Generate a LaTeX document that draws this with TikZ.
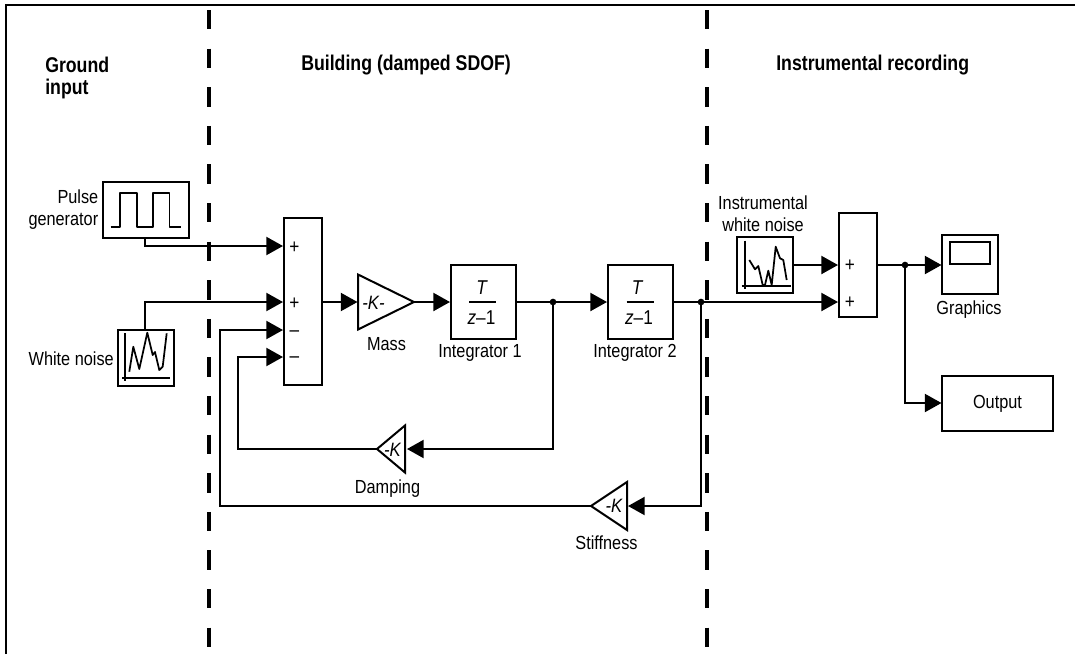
\documentclass[tikz,border=0pt]{standalone}
\usepackage{fontspec}
\setmainfont[FakeStretch=0.86]{Liberation Sans}
\newfontfamily\headfont[FakeStretch=0.83]{Liberation Sans}
\usetikzlibrary{arrows.meta,shapes.geometric}
\tikzset{
  x=0.75pt,y=-0.75pt,
  wire/.style={line width=1.6pt,-{Triangle[length=12.5pt,width=13.5pt]}},
  plainwire/.style={line width=1.6pt},
  block/.style={draw,line width=1.5pt,inner sep=0pt,outer sep=0pt,anchor=north west},
  gain/.style={draw,line width=1.5pt,isosceles triangle,isosceles triangle stretches,inner sep=0pt,outer sep=0pt,anchor=apex},
  lab/.style={font=\fontsize{14.2pt}{16.5pt}\selectfont,inner sep=0pt,align=center},
  head/.style={font=\fontsize{16pt}{17pt}\headfont\bfseries,inner sep=0pt,align=left,anchor=west},
  sign/.style={font=\fontsize{15pt}{15pt}\selectfont,inner sep=0pt},
  dot/.style={fill,circle,inner sep=0pt,minimum size=5pt},
  divider/.style={line width=3pt,dash pattern=on 14.5pt off 14.45pt},
  icon/.style={line width=1.3pt,line join=round},
  frac/.style={font=\fontsize{15pt}{17pt}\selectfont,inner sep=0pt}
}
\begin{document}
\begin{tikzpicture}
\useasboundingbox (0,0) rectangle (1075,654);
\fill[white] (0,0) rectangle (1075,654);
% frame
\coordinate (frameBL) at (5.5,654);
\coordinate (frameTL) at (5.5,4.5);
\coordinate (frameTR) at (1075,4.5);
\draw[line width=1.5pt] (frameBL) -- (frameTL) -- (frameTR);
% dividers
\coordinate (d1t) at (209,10); \coordinate (d1b) at (209,654);
\coordinate (d2t) at (707,10); \coordinate (d2b) at (707,654);
\draw[divider] (d1t) -- (d1b);
\draw[divider] (d2t) -- (d2b);
% headings
\node[head] (hground) at (45,77.5) {Ground\\[-0.5pt]input};
\node[head] (hbuilding) at (301,65.5) {Building (damped SDOF)};
\node[head] (hinstr) at (776,65.5) {Instrumental recording};
% blocks
\node[block,minimum width=86.5*0.75pt,minimum height=55.5*0.75pt] (pulse) at (102.5,182) {};
\node[block,minimum width=56*0.75pt,minimum height=56.5*0.75pt] (wn) at (118,329.5) {};
\node[block,minimum width=38*0.75pt,minimum height=167*0.75pt] (sum1) at (284,218) {};
\node[block,minimum width=65*0.75pt,minimum height=74.5*0.75pt] (int1) at (450.5,264.5) {};
\node[block,minimum width=65.5*0.75pt,minimum height=74.5*0.75pt] (int2) at (607.5,264.5) {};
\node[block,minimum width=56*0.75pt,minimum height=56*0.75pt] (iwn) at (737,237) {};
\node[block,minimum width=38*0.75pt,minimum height=104*0.75pt] (sum2) at (839,213) {};
\node[block,minimum width=56*0.75pt,minimum height=59*0.75pt] (scope) at (942,235) {};
\node[block,minimum width=40*0.75pt,minimum height=22*0.75pt] (screen) at (949.5,242) {};
\node[block,minimum width=111*0.75pt,minimum height=55*0.75pt,font=\fontsize{14.2pt}{16pt}\selectfont] (output) at (942,376) {Output};
% gains
\node[gain,shape border rotate=0,minimum height=56*0.75pt,minimum width=55*0.75pt] (mass) at (414,302) {};
\node[gain,shape border rotate=180,minimum height=28*0.75pt,minimum width=47*0.75pt] (damp) at (377,449) {};
\node[gain,shape border rotate=180,minimum height=36*0.75pt,minimum width=48*0.75pt] (stiff) at (591,506) {};
% gain texts
\node[lab,font=\fontsize{14.5pt}{15pt}\selectfont\itshape] (masstxt) at (373.5,303) {-K-};
\node[lab,font=\fontsize{14.5pt}{15pt}\selectfont\itshape] (damptxt) at (392.5,450) {-K};
\node[lab,font=\fontsize{14.5pt}{15pt}\selectfont\itshape] (stifftxt) at (614,506) {-K};
% integrator fractions
\foreach \n/\cx/\tx/\zx in {a/482.5/481.5/481.5,b/640/637/639}{
  \node[frac,font=\fontsize{15pt}{17pt}\selectfont\itshape] (t\n) at (\tx,288) {T};
  \node[frac] (z\n) at (\zx,318) {\textit{z}–1};
  \draw[line width=1.4pt] (\cx-13.5,302) -- (\cx+13.5,302);
}
% icons
\draw[icon] (110.5,226.7) -- (120,226.7) -- (120,192.7) -- (136.7,192.7) -- (136.7,226.7) -- (153,226.7) -- (153,192.7) -- (169.5,192.7) -- (169.5,226.7) -- (181,226.7);
\draw[icon] (125,333) -- (125,381) (122,377.7) -- (170,377.7);
\draw[icon] (129.3,371.7) -- (133.3,346.7) -- (139.3,369) -- (147.3,332.7) -- (152.7,355) -- (155,352) -- (159.3,370) -- (162.7,366.7) -- (166.7,333.3);
\draw[icon] (745.3,240.7) -- (745.3,289) (741.7,285.7) -- (790.7,285.7);
\draw[icon] (749.3,260) -- (755,269.3) -- (758.3,266) -- (762.7,285) -- (765,285) -- (768.3,270.7) -- (771.7,285) -- (775.7,246.7) -- (780,258.3) -- (783.3,260) -- (786.7,280);
% signs
\node[sign] (s1a) at (294.5,247.5) {+};
\node[sign] (s1b) at (294.5,304) {+};
\node[sign] (s1c) at (294.5,333.5) {–};
\node[sign] (s1d) at (294.5,360) {–};
\node[sign] (s2a) at (850,266) {+};
\node[sign] (s2b) at (850,302.5) {+};
% labels
\node[lab,anchor=east] (lpulse) at (98.5,210.5) {\begin{tabular}{@{}r@{}}Pulse\\generator\end{tabular}};
\node[lab,anchor=east] (lwn) at (114,359) {White noise};
\node[lab] (lmass) at (386.5,344) {Mass};
\node[lab] (lint1) at (480,353) {Integrator 1};
\node[lab] (lint2) at (635,353) {Integrator 2};
\node[lab] (ldamp) at (387.5,489) {Damping};
\node[lab] (lstiff) at (606.5,543) {Stiffness};
\node[lab] (liwn) at (763,214) {Instrumental\\white noise};
\node[lab] (lgraph) at (969,310) {Graphics};
% ports
\coordinate (p1) at (283,246);
\coordinate (p2) at (283,302);
\coordinate (p3) at (283,330);
\coordinate (p4) at (283,357);
\coordinate (q1) at (838,265);
\coordinate (q2) at (838,302);
\coordinate (jn1) at (553,302);
\coordinate (jn2) at (701,302);
\coordinate (jn3) at (905,265);
\coordinate (massin) at (357.5,302);
\coordinate (dampin) at (407,449);
\coordinate (stiffin) at (628,506);
\coordinate (sum1out) at (322,302);
\coordinate (pulseout) at (145,238);
\coordinate (wnout) at (145,329.5);
\coordinate (iwnout) at (793,265);
\coordinate (sum2out) at (877,265);
\coordinate (scopein) at (941.5,265);
\coordinate (outin) at (941.5,403);
\coordinate (int1in) at (450,302);
\coordinate (int1out) at (515.5,302);
\coordinate (int2in) at (607,302);
\coordinate (int2out) at (673,302);
% connectors
\draw[wire] (pulseout) |- (p1);
\draw[wire] (wnout) |- (p2);
\draw[wire] (damp.apex) -| (238,357) -- (p4);
\draw[wire] (stiff.apex) -| (220,330) -- (p3);
\draw[wire] (sum1out) -- (massin);
\draw[wire] (mass.apex) -- (int1in);
\draw[wire] (int1out) -- (int2in);
\draw[plainwire] (int2out) -- (jn2);
\draw[wire] (jn2) -- (q2);
\draw[wire] (iwnout) -- (q1);
\draw[wire] (sum2out) -- (scopein);
\draw[wire] (jn3) |- (outin);
\draw[wire] (jn1) |- (dampin);
\draw[wire] (jn2) |- (stiffin);
\node[dot] (dot1) at (jn1) {};
\node[dot] (dot2) at (jn2) {};
\node[dot] (dot3) at (jn3) {};
\end{tikzpicture}
\end{document}
